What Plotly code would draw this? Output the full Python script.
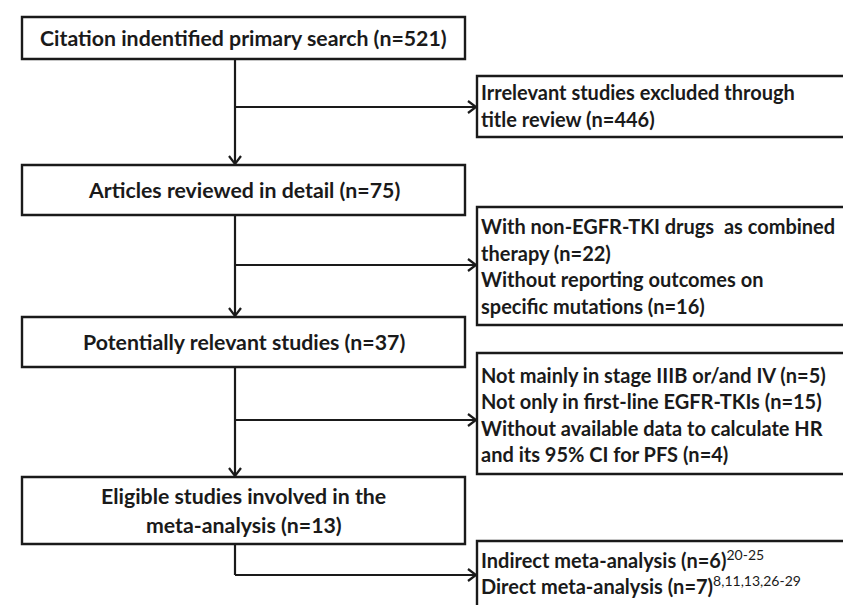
import plotly.graph_objects as go

# Main (left) boxes: text lines, top, bottom
main_texts = [
    ["Citation indentified primary search (n=521)"],
    ["Articles reviewed in detail (n=75)"],
    ["Potentially relevant studies (n=37)"],
    ["Eligible studies involved in the", "meta-analysis (n=13)"],
]
main_top = [9, 157, 309, 469]
main_bot = [51, 207, 359, 536]

# Side (right) boxes: text lines, top, bottom, text centre
side_texts = [
    ["Irrelevant studies excluded through", "title review (n=446)"],
    ["With non-EGFR-TKI drugs  as combined", "therapy (n=22)",
     "Without reporting outcomes on", "specific mutations (n=16)"],
    ["Not mainly in stage IIIB or/and IV (n=5)", "Not only in first-line EGFR-TKIs (n=15)",
     "Without available data to calculate HR", "and its 95% CI for PFS (n=4)"],
    ["Indirect meta-analysis (n=6)<sup><span style='font-weight:normal'>20-25</span></sup>",
     "Direct meta-analysis (n=7)<sup><span style='font-weight:normal'>8,11,13,26-29</span></sup>"],
]
side_top = [68, 199, 345, 533]
side_bot = [129, 317, 466, 615]
side_mid = [97.5, 258, 406.5, 564]
arrow_y = [99, 257, 412, 567]

MX0, MX1 = 14, 457
CX = 227
SX0, SX1 = 469, 870
LINE = "#1a1a1a"
FONT_MAIN = dict(family="Lato, Open Sans, sans-serif", size=21.3, color="#1a1a1a", weight="bold")
FONT_SIDE = dict(family="Lato, Open Sans, sans-serif", size=20, color="#1a1a1a", weight="bold")
PITCH_SIDE = 26.5
PITCH_MAIN = 28.5

fig = go.Figure()

shapes = []
for t, b in zip(main_top, main_bot):
    shapes.append(dict(type="rect", x0=MX0, x1=MX1, y0=t, y1=b, xref="x", yref="y",
                       line=dict(color=LINE, width=2.4), fillcolor="white"))
for t, b in zip(side_top, side_bot):
    shapes.append(dict(type="rect", x0=SX0, x1=SX1, y0=t, y1=b, xref="x", yref="y",
                       line=dict(color=LINE, width=2.4), fillcolor="white"))

# connectors
xs, ys = [], []
for i in range(3):
    xs += [CX, CX, None]
    ys += [main_bot[i], main_top[i + 1], None]
    xs += [CX - 6, CX, CX + 6, None]
    ys += [main_top[i + 1] - 9, main_top[i + 1] - 1, main_top[i + 1] - 9, None]
xs += [CX, CX, None]
ys += [main_bot[3], arrow_y[3], None]
for y in arrow_y:
    xs += [CX, SX0 - 1, None]
    ys += [y, y, None]
    xs += [SX0 - 9, SX0 - 1, SX0 - 9, None]
    ys += [y - 6, y, y + 6, None]

fig.add_trace(go.Scatter(x=xs, y=ys, mode="lines", line=dict(color=LINE, width=2.2),
                         hoverinfo="skip", showlegend=False))

annotations = []
for lines, t, b in zip(main_texts, main_top, main_bot):
    n = len(lines)
    mid = (t + b) / 2
    for j, ln in enumerate(lines):
        y = mid + (j - (n - 1) / 2) * PITCH_MAIN
        annotations.append(dict(x=(MX0 + MX1) / 2, y=y, text=ln, showarrow=False,
                                xref="x", yref="y", xanchor="center", yanchor="middle",
                                font=FONT_MAIN, align="center"))
for lines, mid in zip(side_texts, side_mid):
    n = len(lines)
    for j, ln in enumerate(lines):
        y = mid + (j - (n - 1) / 2) * PITCH_SIDE
        annotations.append(dict(x=471, y=y, text=ln, showarrow=False, xref="x", yref="y",
                                xanchor="left", yanchor="middle", font=FONT_SIDE, align="left"))

fig.update_layout(
    width=851, height=605,
    margin=dict(l=0, r=0, t=0, b=0),
    paper_bgcolor="white", plot_bgcolor="white",
    xaxis=dict(range=[0, 851], visible=False, fixedrange=True),
    yaxis=dict(range=[605, 0], visible=False, fixedrange=True),
    shapes=shapes, annotations=annotations,
)
fig.write_html("out.html")
